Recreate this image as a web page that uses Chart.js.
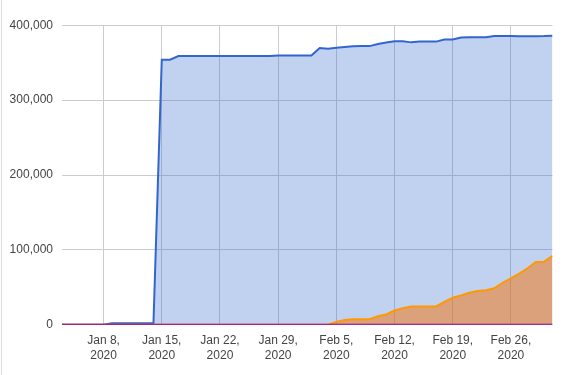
<!DOCTYPE html>
<html>
<head>
<meta charset="utf-8">
<script src="https://cdn.jsdelivr.net/npm/chart.js@4/dist/chart.umd.min.js"></script>
<style>
  html, body { margin: 0; padding: 0; background: #fff; }
  #wrap { position: relative; width: 572px; height: 375px; }
  #edge { position: absolute; left: 1px; top: 0; width: 1px; height: 375px; background: #dcdcdc; }
  canvas { position: absolute; left: 0; top: 0; }
</style>
</head>
<body>
<div id="wrap">
  <canvas id="c" width="572" height="375"></canvas>
  <div id="edge"></div>
</div>
<script>
const dates = [
  "Jan 3","Jan 4","Jan 5","Jan 6","Jan 7","Jan 8","Jan 9","Jan 10","Jan 11","Jan 12",
  "Jan 13","Jan 14","Jan 15","Jan 16","Jan 17","Jan 18","Jan 19","Jan 20","Jan 21","Jan 22",
  "Jan 23","Jan 24","Jan 25","Jan 26","Jan 27","Jan 28","Jan 29","Jan 30","Jan 31","Feb 1",
  "Feb 2","Feb 3","Feb 4","Feb 5","Feb 6","Feb 7","Feb 8","Feb 9","Feb 10","Feb 11",
  "Feb 12","Feb 13","Feb 14","Feb 15","Feb 16","Feb 17","Feb 18","Feb 19","Feb 20","Feb 21",
  "Feb 22","Feb 23","Feb 24","Feb 25","Feb 26","Feb 27","Feb 28","Feb 29","Mar 1","Mar 2"
];
const blueSeries = [
  0,0,0,0,0,0,2000,2000,2000,2000,
  2000,2000,354000,354000,359000,359000,359000,359000,359000,359000,
  359000,359000,359000,359000,359000,359000,359500,359500,359500,359500,
  359500,369600,368800,370000,371000,372000,372200,372200,375000,377000,
  378800,378800,377200,378200,378200,378200,381000,381000,383800,384000,
  384000,384200,385600,385800,385700,385500,385400,385500,385700,386200
];
const orangeSeries = [
  0,0,0,0,0,0,0,0,0,0,
  0,0,0,0,0,0,0,0,0,0,
  0,0,0,0,0,0,0,0,0,0,
  0,0,0,3800,6400,7400,7400,7400,11400,13700,
  19000,22100,24400,24400,24400,24400,30600,36000,39200,42700,
  45000,45900,48600,56000,62000,68200,75400,83800,84200,91900
];
const purpleSeries = dates.map(() => 0);
const tickDates = ["Jan 8","Jan 15","Jan 22","Jan 29","Feb 5","Feb 12","Feb 19","Feb 26"];
const tickYear = "2020";
const yTicks = [0, 100000, 200000, 300000, 400000];

const toPts = arr => arr.map((v, i) => ({ x: i, y: v }));
const fmt = v => String(v).replace(/\B(?=(\d{3})+(?!\d))/g, ",");
const font = { family: "'Liberation Sans', Arial, sans-serif", size: 12, lineHeight: 1.25 };

new Chart(document.getElementById('c'), {
  type: 'line',
  data: {
    datasets: [
      { data: toPts(blueSeries), borderColor: '#3366cc', backgroundColor: 'rgba(51,102,204,0.3)',
        fill: 'origin', borderWidth: 2, pointRadius: 0, tension: 0, order: 3 },
      { data: toPts(orangeSeries), borderColor: '#ff9900', backgroundColor: 'rgba(241,113,7,0.51)',
        fill: 'origin', borderWidth: 2, pointRadius: 0, tension: 0, order: 2 },
      { data: toPts(purpleSeries), borderColor: '#990099', backgroundColor: 'transparent',
        fill: false, borderWidth: 2, pointRadius: 0, tension: 0, order: 1 }
    ]
  },
  options: {
    responsive: false,
    animation: false,
    devicePixelRatio: 1,
    layout: { padding: { left: 0, right: 19.5, top: 25.3, bottom: 12.3 } },
    plugins: { legend: { display: false }, tooltip: { enabled: false } },
    scales: {
      x: {
        type: 'linear', min: 0, max: dates.length - 1,
        afterBuildTicks: s => { s.ticks = tickDates.map(d => ({ value: dates.indexOf(d) })); },
        afterFit: s => { s.height = 38; },
        grid: { color: '#cccccc', drawTicks: false },
        border: { display: false },
        ticks: { padding: 8, color: '#444', font, maxRotation: 0, autoSkip: false,
          callback: v => [dates[v] + ",", tickYear] }
      },
      y: {
        min: 0, max: 400000,
        afterBuildTicks: s => { s.ticks = yTicks.map(v => ({ value: v })); },
        afterFit: s => { s.width = 62; },
        grid: { color: '#cccccc', drawTicks: false },
        border: { display: false },
        ticks: { padding: 9, color: '#444', font, callback: v => fmt(v) }
      }
    }
  }
});
</script>
</body>
</html>
